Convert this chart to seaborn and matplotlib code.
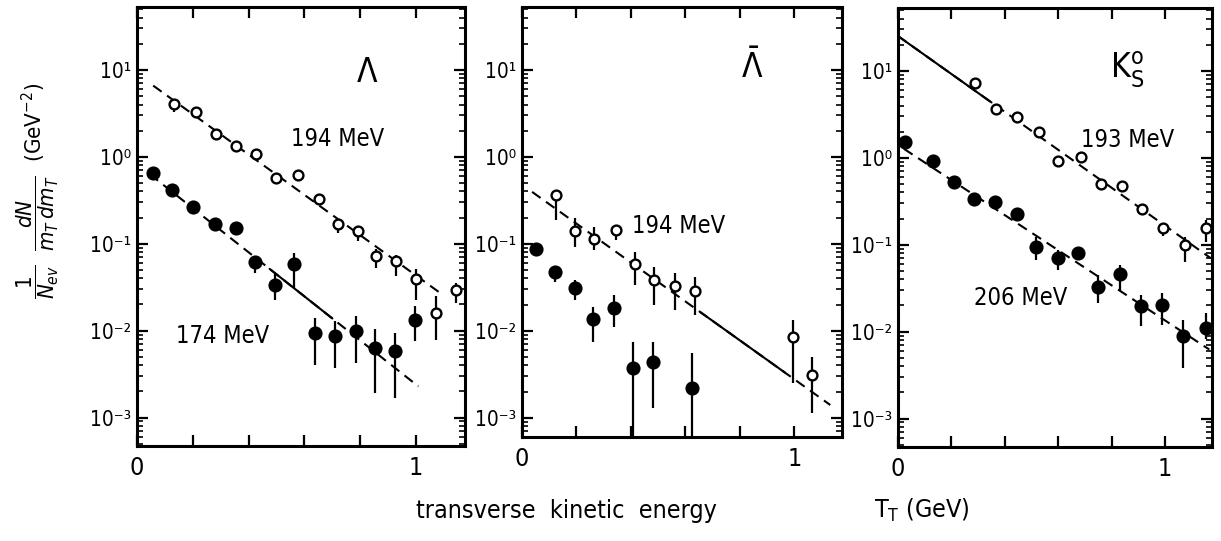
import numpy as np
import matplotlib
matplotlib.use("Agg")
import matplotlib.pyplot as plt
import seaborn as sns
from matplotlib.ticker import FixedLocator, LogLocator, NullFormatter

# ---------------- data ----------------
# Panel 1: Lambda
lam_open_x = [0.132, 0.210, 0.282, 0.354, 0.427, 0.499, 0.576, 0.651, 0.719, 0.790, 0.856, 0.927, 0.999, 1.070, 1.142]
lam_open_y = [4.05, 3.25, 1.83, 1.32, 1.07, 0.578, 0.620, 0.325, 0.170, 0.140, 0.072, 0.063, 0.0388, 0.0160, 0.0297]
lam_open_lo = [3.25, 3.25, 1.83, 1.32, 0.95, 0.578, 0.620, 0.300, 0.134, 0.107, 0.053, 0.042, 0.0228, 0.00787, 0.0209]
lam_open_hi = [4.63, 3.25, 1.83, 1.32, 1.20, 0.578, 0.620, 0.350, 0.191, 0.160, 0.086, 0.075, 0.0506, 0.0249, 0.0355]

lam_full_x = [0.056, 0.127, 0.201, 0.279, 0.354, 0.421, 0.493, 0.564, 0.639, 0.711, 0.785, 0.854, 0.925, 0.996]
lam_full_y = [0.66, 0.41, 0.265, 0.170, 0.153, 0.062, 0.0334, 0.0578, 0.0094, 0.0086, 0.0098, 0.0063, 0.0059, 0.0134]
lam_full_lo = [0.66, 0.41, 0.265, 0.170, 0.153, 0.046, 0.0228, 0.031, 0.00405, 0.0037, 0.0042, 0.0019, 0.00167, 0.00753]
lam_full_hi = [0.66, 0.41, 0.265, 0.170, 0.153, 0.067, 0.0443, 0.0788, 0.0140, 0.0128, 0.0148, 0.0103, 0.0094, 0.0191]

# Panel 2: anti-Lambda
alam_open_x = [0.126, 0.196, 0.266, 0.344, 0.415, 0.486, 0.561, 0.637, 0.996, 1.064]
alam_open_y = [0.362, 0.141, 0.115, 0.144, 0.0584, 0.0382, 0.0326, 0.0288, 0.0084, 0.00309]
alam_open_lo = [0.187, 0.092, 0.0846, 0.110, 0.0335, 0.0197, 0.0173, 0.0151, 0.00248, 0.00112]
alam_open_hi = [0.42, 0.196, 0.157, 0.150, 0.081, 0.0544, 0.0456, 0.0418, 0.0133, 0.00502]

alam_full_x = [0.050, 0.121, 0.193, 0.262, 0.337, 0.408, 0.480, 0.625]
alam_full_y = [0.0883, 0.0477, 0.0307, 0.0136, 0.0185, 0.00369, 0.0044, 0.00217]
alam_full_lo = [0.0883, 0.0366, 0.0225, 0.00748, 0.0111, 1e-6, 0.00128, 1e-6]
alam_full_hi = [0.0883, 0.055, 0.038, 0.0189, 0.0257, 0.0075, 0.0075, 0.0055]

# Panel 3: K0s
k_open_x = [0.288, 0.366, 0.447, 0.526, 0.600, 0.684, 0.759, 0.840, 0.913, 0.993, 1.075, 1.152]
k_open_y = [7.35, 3.64, 2.97, 2.00, 0.908, 1.02, 0.495, 0.474, 0.260, 0.157, 0.099, 0.154]
k_open_lo = [6.5, 3.64, 2.97, 1.85, 0.80, 1.02, 0.46, 0.40, 0.24, 0.127, 0.0638, 0.108]
k_open_hi = [7.9, 3.64, 2.97, 2.00, 0.96, 1.02, 0.495, 0.52, 0.27, 0.170, 0.123, 0.19]

k_full_x = [0.026, 0.131, 0.210, 0.285, 0.363, 0.444, 0.518, 0.597, 0.675, 0.750, 0.830, 0.909, 0.988, 1.067, 1.152]
k_full_y = [1.51, 0.908, 0.526, 0.333, 0.311, 0.228, 0.0949, 0.0697, 0.0796, 0.033, 0.0457, 0.0195, 0.020, 0.00885, 0.011]
k_full_lo = [1.51, 0.908, 0.526, 0.30, 0.311, 0.21, 0.0668, 0.051, 0.068, 0.0213, 0.029, 0.0115, 0.012, 0.00384, 0.0083]
k_full_hi = [1.51, 0.908, 0.526, 0.333, 0.311, 0.228, 0.123, 0.086, 0.0796, 0.045, 0.0585, 0.0265, 0.028, 0.0137, 0.0164]

# Exponential fit lines: end points (x in GeV, y) and the x-span drawn solid
lam_open_fit_x, lam_open_fit_y, lam_open_fit_solid = [0.058, 1.094], [6.6, 0.026], None
lam_full_fit_x, lam_full_fit_y, lam_full_fit_solid = [0.046, 1.008], [0.63, 0.00228], (0.475, 0.70)
alam_fit_x, alam_fit_y, alam_fit_solid = [0.037, 1.132], [0.396, 0.0014], (0.656, 0.965)
k_open_fit_x, k_open_fit_y, k_open_fit_solid = [0.0, 1.171], [25.2, 0.0698], (0.0, 0.35)
k_full_fit_x, k_full_fit_y, k_full_fit_solid = [0.022, 1.165], [1.27, 0.00622], None

x_ticks = [0.0, 0.2, 0.4, 0.6, 0.8, 1.0]
x_ticklabels = ["0", "", "", "", "", "1"]
y_ticks = [1e-3, 1e-2, 1e-1, 1e0, 1e1]
y_ticklabels = ["10⁻³", "10⁻²", "10⁻¹", "10⁰", "10¹"]

# ---------------- style ----------------
sns.set_theme(style="ticks")
plt.rcParams["font.family"] = ["DejaVu Sans"]
plt.rcParams["font.stretch"] = "condensed"
plt.rcParams["mathtext.fontset"] = "dejavusans"
plt.rcParams["text.color"] = "black"

W, H = 1221, 541
fig = plt.figure(figsize=(W / 100, H / 100), dpi=100)


def ax_at(l, r, t, b):
    return fig.add_axes([l / W, 1 - b / H, (r - l) / W, (b - t) / H])


def setup(ax, bottom=4.7e-4):
    ax.set_yscale("log")
    ax.set_xlim(0, 1.175)
    ax.set_ylim(bottom, 53)
    ax.xaxis.set_major_locator(FixedLocator(x_ticks))
    ax.set_xticklabels(x_ticklabels)
    ax.set_yticks(y_ticks)
    ax.set_yticklabels(y_ticklabels)
    ax.yaxis.set_minor_locator(LogLocator(base=10, subs=np.arange(2, 10), numticks=30))
    ax.yaxis.set_minor_formatter(NullFormatter())
    ax.tick_params(which="both", direction="in", top=True, right=True, colors="black")
    ax.tick_params(axis="x", pad=7, labelsize=18)
    ax.tick_params(axis="y", pad=4, labelsize=15)
    ax.tick_params(which="major", length=8, width=1.6)
    ax.tick_params(which="minor", length=4, width=1.2)
    for sp in ax.spines.values():
        sp.set_linewidth(2.2)
        sp.set_color("black")
    ax.set_xlabel("")
    ax.set_ylabel("")


def points(ax, x, y, lo, hi, filled):
    x = np.asarray(x); y = np.asarray(y); lo = np.asarray(lo); hi = np.asarray(hi)
    ax.errorbar(x, y, yerr=[y - lo, hi - y], fmt="none", ecolor="black",
                elinewidth=1.6, capsize=0, zorder=3)
    sns.scatterplot(x=x, y=y, ax=ax, marker="o", s=72 if filled else 50,
                    color="black" if filled else "white", edgecolor="black",
                    linewidth=1.7, zorder=4, legend=False)


def fit(ax, xs, ys, solid):
    x0, x1 = xs
    y0, y1 = ys
    sns.lineplot(x=xs, y=ys, ax=ax, color="black", lw=1.5,
                 linestyle=(0, (5, 3.2)), zorder=2, legend=False)
    if solid is not None:
        s0, s1 = solid
        yv = lambda xx: y0 * (y1 / y0) ** ((xx - x0) / (x1 - x0))
        sns.lineplot(x=[s0, s1], y=[yv(s0), yv(s1)], ax=ax, color="black", lw=1.5,
                     linestyle="-", zorder=2, legend=False)


ann = dict(fontsize=17, ha="center", va="center")
big = dict(fontsize=24, ha="center", va="center")

# Panel 1
ax1 = ax_at(137, 465, 7, 446)
setup(ax1)
fit(ax1, lam_open_fit_x, lam_open_fit_y, lam_open_fit_solid)
fit(ax1, lam_full_fit_x, lam_full_fit_y, lam_full_fit_solid)
points(ax1, lam_open_x, lam_open_y, lam_open_lo, lam_open_hi, False)
points(ax1, lam_full_x, lam_full_y, lam_full_lo, lam_full_hi, True)
setup(ax1)
ax1.text(0.70, 0.85, "Λ", transform=ax1.transAxes, **big)
ax1.text(0.61, 0.70, "194 MeV", transform=ax1.transAxes, **ann)
ax1.text(0.26, 0.25, "174 MeV", transform=ax1.transAxes, **ann)

# Panel 2
ax2 = ax_at(522, 842, 7, 437)
setup(ax2, bottom=6.0e-4)
fit(ax2, alam_fit_x, alam_fit_y, alam_fit_solid)
points(ax2, alam_open_x, alam_open_y, alam_open_lo, alam_open_hi, False)
points(ax2, alam_full_x, alam_full_y, alam_full_lo, alam_full_hi, True)
setup(ax2, bottom=6.0e-4)
ax2.text(0.72, 0.86, r"$\bar{\Lambda}$", transform=ax2.transAxes, **big)
ax2.text(0.49, 0.49, "194 MeV", transform=ax2.transAxes, **ann)

# Panel 3
ax3 = ax_at(898, 1212, 8, 447)
setup(ax3)
fit(ax3, k_open_fit_x, k_open_fit_y, k_open_fit_solid)
fit(ax3, k_full_fit_x, k_full_fit_y, k_full_fit_solid)
points(ax3, k_open_x, k_open_y, k_open_lo, k_open_hi, False)
points(ax3, k_full_x, k_full_y, k_full_lo, k_full_hi, True)
setup(ax3)
ax3.text(0.73, 0.86, r"$\mathrm{K}^{\mathrm{o}}_{\mathrm{S}}$", transform=ax3.transAxes, **big)
ax3.text(0.73, 0.70, "193 MeV", transform=ax3.transAxes, **ann)
ax3.text(0.39, 0.34, "206 MeV", transform=ax3.transAxes, **ann)

# Axis titles
fig.text(38 / W, 1 - 191 / H,
         r"$\dfrac{1}{N_{ev}}\ \ \dfrac{dN}{m_T\,dm_T}\ \ (\mathrm{GeV}^{-2})$",
         rotation=90, ha="center", va="center", fontsize=16)
fig.text(566 / W, 1 - 511 / H, "transverse  kinetic  energy", ha="center", va="center", fontsize=18)
fig.text(922 / W, 1 - 510 / H, "T$_\\mathrm{T}$ (GeV)", ha="center", va="center", fontsize=18)

fig.savefig("out.png", dpi=100)
